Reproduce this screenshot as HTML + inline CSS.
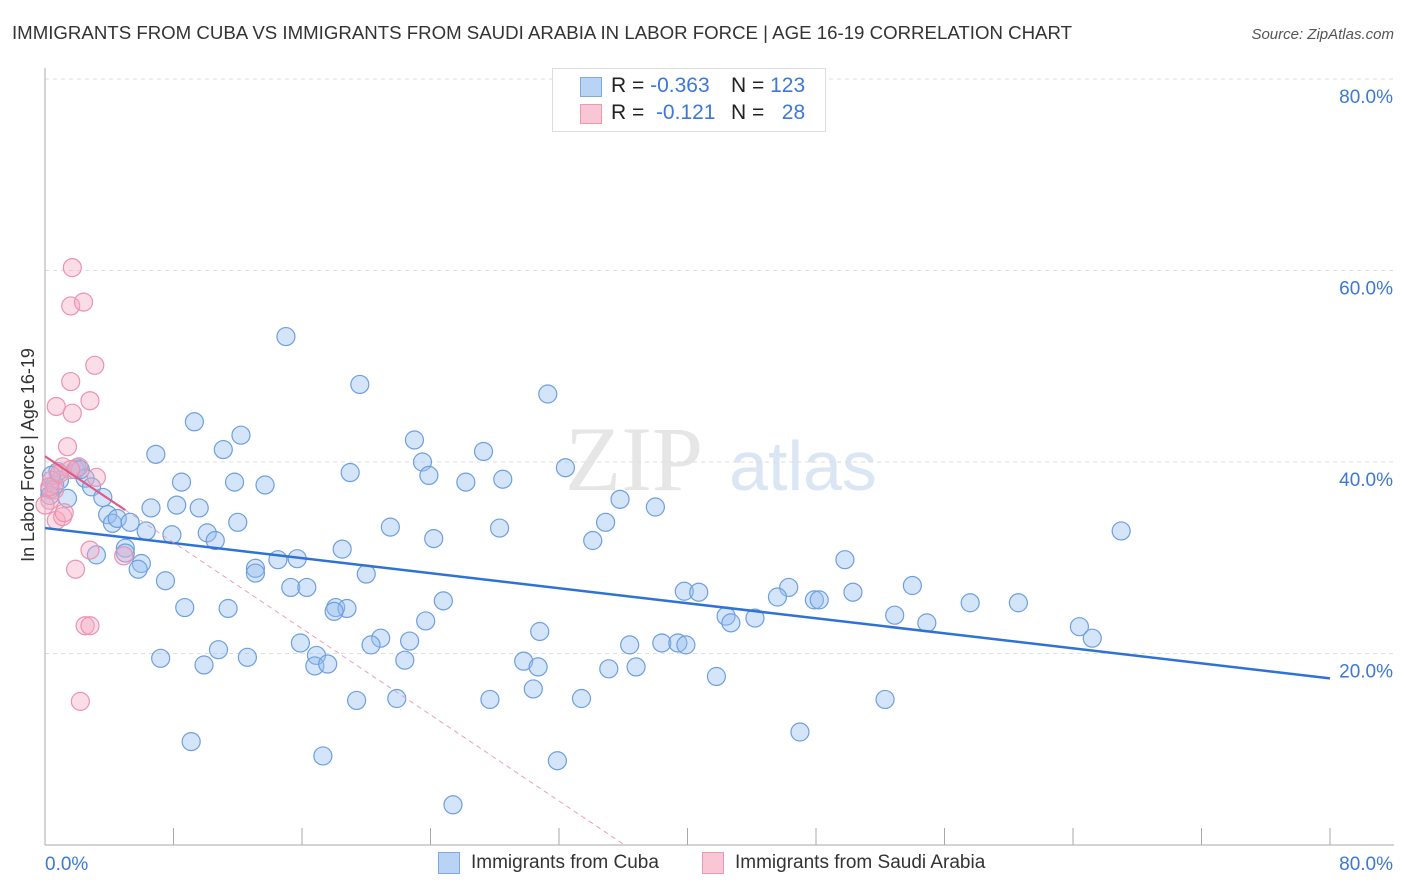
<!DOCTYPE html>
<html><head><meta charset="utf-8">
<style>
body{margin:0;background:#fff;font-family:"Liberation Sans",sans-serif;}
#wrap{position:relative;width:1406px;height:892px;overflow:hidden;}
</style></head>
<body>
<div id="wrap">
<svg id="svg" width="1406" height="892">
<text x="12" y="39" font-size="18" fill="#333" textLength="1060" lengthAdjust="spacingAndGlyphs">IMMIGRANTS FROM CUBA VS IMMIGRANTS FROM SAUDI ARABIA IN LABOR FORCE | AGE 16-19 CORRELATION CHART</text>
<text x="1394" y="39" font-size="15" fill="#555" font-style="italic" text-anchor="end">Source: ZipAtlas.com</text>
<text x="634" y="490" font-size="92" fill="#e6e6e6" font-family="Liberation Serif" text-anchor="middle">ZIP</text>
<text x="803" y="490" font-size="70" fill="#dbe6f5" text-anchor="middle">atlas</text>
<text transform="translate(34,455) rotate(-90)" font-size="18" fill="#333" text-anchor="middle">In Labor Force | Age 16-19</text>
<g id="grid"></g><g id="marks"></g>
</svg>
<div style="position:absolute;left:552px;top:68px;width:272px;height:62px;border:1px solid #ddd;background:#fff;font-size:21px;">
 <div style="position:absolute;left:27px;top:8px;width:20px;height:18px;background:#b9d3f5;border:1px solid #7ea9e4"></div>
 <div style="position:absolute;left:58px;top:5px;color:#222">R = <span style="color:#3b78d8">-0.363</span></div>
 <div style="position:absolute;left:178px;top:5px;color:#222">N = <span style="color:#3b78d8">123</span></div>
 <div style="position:absolute;left:27px;top:35px;width:20px;height:18px;background:#f8c6d5;border:1px solid #eb9ab2"></div>
 <div style="position:absolute;left:58px;top:32px;color:#222">R = &nbsp;<span style="color:#3b78d8">-0.121</span></div>
 <div style="position:absolute;left:178px;top:32px;color:#222">N = &nbsp;&nbsp;<span style="color:#3b78d8">28</span></div>
</div>
<div style="position:absolute;left:438px;top:852px;width:20px;height:20px;background:#b9d3f5;border:1px solid #7ea9e4"></div>
<div style="position:absolute;left:471px;top:852px;font-size:19px;color:#333">Immigrants from Cuba</div>
<div style="position:absolute;left:702px;top:852px;width:20px;height:20px;background:#f8c6d5;border:1px solid #eb9ab2"></div>
<div style="position:absolute;left:735px;top:852px;font-size:19px;color:#333">Immigrants from Saudi Arabia</div>
</div>
<script>
const yTicks=[20,40,60,80];
const yTickLabels=["20.0%","40.0%","60.0%","80.0%"];
const cubaX=[15.0,19.6,31.3,9.3,12.2,11.1,23.0,27.3,6.9,23.5,32.4,19.0,23.9,8.5,11.8,13.7,26.2,28.5,35.8,38.0,8.2,9.6,6.6,12.0,34.9,21.5,28.3,6.3,7.9,10.1,10.6,24.2,34.1,18.5,5.0,5.0,3.2,6.0,5.8,14.5,15.7,49.8,13.1,13.1,20.0,67.0,7.5,15.3,16.3,46.3,54.0,39.8,40.7,45.6,47.9,48.2,50.3,24.8,57.6,60.6,8.7,11.4,18.1,18.8,18.0,52.9,42.4,42.7,44.2,23.7,54.9,64.4,65.2,30.8,20.9,22.7,20.3,15.9,36.4,38.4,39.4,39.9,10.8,16.9,7.2,12.6,22.4,29.8,9.9,16.8,17.6,30.7,35.1,36.8,41.8,30.4,19.4,21.9,27.7,33.4,52.3,47.0,9.1,17.3,31.9,25.4,0.3,0.6,0.9,1.4,1.9,2.0,2.5,2.9,3.6,3.9,4.2,4.5,5.3,0.3,0.8,0.4,2.2];
const cubaY=[53.1,48.1,47.1,44.2,42.8,41.3,42.3,41.1,40.8,40.0,39.4,38.9,38.6,37.9,37.9,37.6,37.9,38.2,36.1,35.3,35.5,35.2,35.2,33.7,33.7,33.2,33.1,32.8,32.4,32.6,31.8,32.0,31.8,30.9,31.0,30.5,30.3,29.4,28.8,29.8,29.9,29.8,28.9,28.4,28.3,32.8,27.6,26.9,26.9,26.9,27.1,26.5,26.4,25.9,25.6,25.6,26.4,25.5,25.3,25.3,24.8,24.7,24.8,24.7,24.4,24.0,23.9,23.2,23.7,23.4,23.2,22.8,21.6,22.3,21.6,21.3,20.9,21.1,20.9,21.1,21.1,20.9,20.4,19.8,19.5,19.6,19.3,19.2,18.8,18.7,18.9,18.6,18.4,18.6,17.6,16.3,15.1,15.3,15.2,15.3,15.2,11.8,10.8,9.3,8.8,4.2,37.1,37.6,38.1,36.2,39.2,39.4,38.3,37.4,36.3,34.5,33.6,34.1,33.7,36.5,39.0,38.6,39.2];
const saudiX=[1.7,1.6,2.4,3.1,1.6,2.8,0.7,1.7,1.4,1.1,2.1,3.2,0.4,0.6,0.3,0.7,1.1,1.2,2.8,4.9,1.9,2.5,2.8,2.2,0.3,0.0,1.6,0.9];
const saudiY=[60.3,56.3,56.7,50.1,48.4,46.4,45.8,45.1,41.6,39.5,39.5,38.4,38.1,37.1,36.0,33.9,34.3,34.7,30.8,30.2,28.8,22.9,22.9,15.0,37.4,35.5,39.2,38.8];
const cubaTrend=[33.1,17.4];      // y at x=0, y at x=80
const saudiTrend=[40.6,-1.125,5]; // intercept, slope, solid-end x
const X=v=>45+v/80*1285, Y=v=>845-v/20*191.5;
const NS="http://www.w3.org/2000/svg";
function mk(t,a,p){const e=document.createElementNS(NS,t);for(const k in a)e.setAttribute(k,a[k]);p.appendChild(e);return e;}
const g=document.getElementById('grid'),m=document.getElementById('marks');
yTicks.forEach((t,i)=>{
 const l=mk('line',{x1:45,x2:1394,y1:Y(t),y2:Y(t),stroke:'#ddd','stroke-dasharray':'4,4'},g);
 
 
 const tx=mk('text',{x:1393,y:Y(t)+24,'font-size':19,fill:'#3b78d8','text-anchor':'end'},g);
 tx.textContent=yTickLabels[i];
 
 
});
const ax=mk('line',{x1:45,x2:45,y1:68,y2:845,stroke:'#aaa'},g);


const bx=mk('line',{x1:45,x2:1394,y1:845,y2:845,stroke:'#aaa'},g);


for(let i=0;i<=10;i++){const t=mk('line',{x1:X(i*8),x2:X(i*8),y1:828,y2:845,stroke:'#aaa'},g);
 
 }
[[45,'0.0%','start'],[1393,'80.0%','end']].forEach(d=>{const t=mk('text',{x:d[0],y:870,'font-size':19,fill:'#3b78d8','text-anchor':d[2]},g);t.textContent=d[1];
 
 });
cubaX.forEach((v,i)=>{const c=mk('circle',{cx:X(v),cy:Y(cubaY[i]),r:9,fill:'rgba(150,190,240,0.4)',stroke:'#6d9fe0','stroke-width':1.2},m);
 
 });
saudiX.forEach((v,i)=>{const c=mk('circle',{cx:X(v),cy:Y(saudiY[i]),r:9,fill:'rgba(245,170,195,0.4)',stroke:'#eb93ad','stroke-width':1.2},m);
 
 });
const cl=mk('line',{x1:X(0),y1:Y(cubaTrend[0]),x2:X(80),y2:Y(cubaTrend[1]),stroke:'#2f72d6','stroke-width':2.5},m);


const se=saudiTrend[2], z=-saudiTrend[0]/saudiTrend[1];
const sl=mk('line',{x1:X(0),y1:Y(saudiTrend[0]),x2:X(se),y2:Y(saudiTrend[0]+saudiTrend[1]*se),stroke:'#e05a85','stroke-width':2.2},m);


const sd=mk('line',{x1:X(se),y1:Y(saudiTrend[0]+saudiTrend[1]*se),x2:X(z),y2:Y(0),stroke:'#eaa0b8','stroke-width':1,'stroke-dasharray':'5,4'},m);


</script>
</body></html>
